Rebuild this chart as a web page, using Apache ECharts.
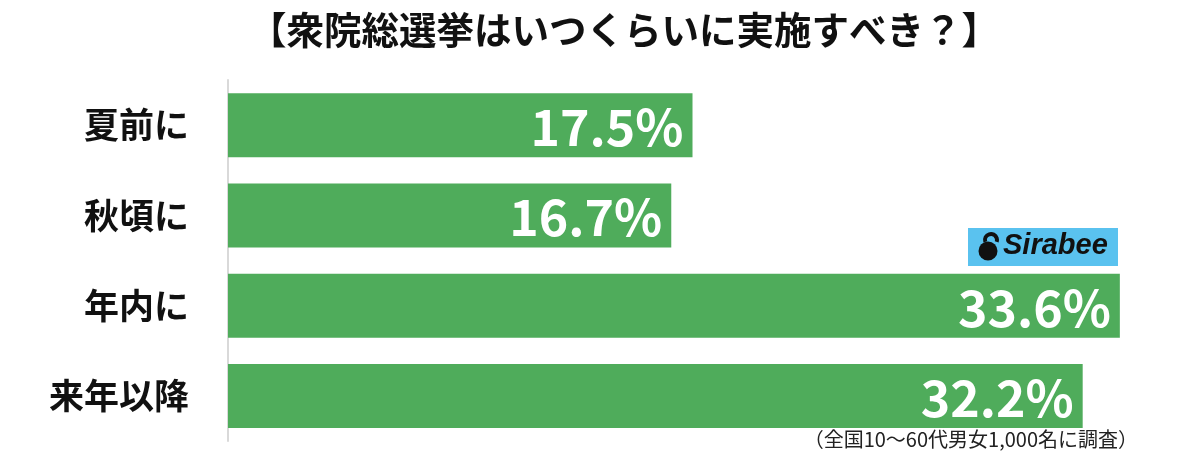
<!DOCTYPE html>
<html><head><meta charset="utf-8">
<script src="https://cdn.jsdelivr.net/npm/echarts@6/dist/echarts.min.js"></script>
<style>html,body{margin:0;padding:0;background:#fff}#c{width:1200px;height:468px}</style>
</head><body><div id="c"></div>
<script>
const categories = ['夏前に', '秋頃に', '年内に', '来年以降'];
const values = [17.5, 16.7, 33.6, 32.2];
const titleText = '【衆院総選挙はいつくらいに実施すべき？】';
const noteText = '（全国10〜60代男女1,000名に調査）';
const logoText = 'Sirabee';

const chart = echarts.init(document.getElementById('c'));
chart.setOption({
  backgroundColor: '#fff',
  animation: false,
  title: {
    text: titleText, left: 244, top: 6,
    textStyle: {fontFamily: 'Noto Sans CJK JP', fontWeight: 'bold', fontSize: 37.5, color: '#111'}
  },
  grid: {left: 228, top: 80, width: 929, height: 361, containLabel: false},
  xAxis: {type: 'value', min: 0, max: 35, show: false},
  yAxis: {
    type: 'category', data: categories, inverse: true,
    axisLine: {show: true, lineStyle: {color: '#d9d9d9', width: 2}},
    axisTick: {show: false},
    axisLabel: {margin: 39, fontFamily: 'Noto Sans CJK JP', fontWeight: 'bold', fontSize: 35, color: '#111'}
  },
  series: [{
    type: 'bar', data: values, barWidth: 64,
    itemStyle: {color: '#4fac5b'},
    label: {
      show: true, position: 'insideRight', offset: [-4, 2],
      formatter: p => p.value.toFixed(1) + '%',
      fontFamily: 'Noto Sans CJK JP', fontWeight: 'bold', fontSize: 50, color: '#fff'
    }
  }],
  graphic: [
    {type: 'rect', left: 968, top: 228, shape: {width: 150, height: 38}, style: {fill: '#5ac2ef'}},
    {type: 'circle', shape: {cx: 988, cy: 251, r: 9.5}, style: {fill: '#111'}},
    {type: 'arc', shape: {cx: 991, cy: 240, r: 6, startAngle: Math.PI * 0.9, endAngle: Math.PI * 2.1}, style: {stroke: '#111', lineWidth: 4, fill: null}},
    {type: 'text', left: 1003, top: 231, style: {text: logoText, fontFamily: 'Liberation Sans', fontStyle: 'italic', fontWeight: 'bold', fontSize: 29, fill: '#111'}},
    {type: 'text', right: 62, top: 429, style: {text: noteText, fontFamily: 'Noto Sans CJK JP', fontSize: 20, fill: '#222'}}
  ]
});
</script></body></html>
